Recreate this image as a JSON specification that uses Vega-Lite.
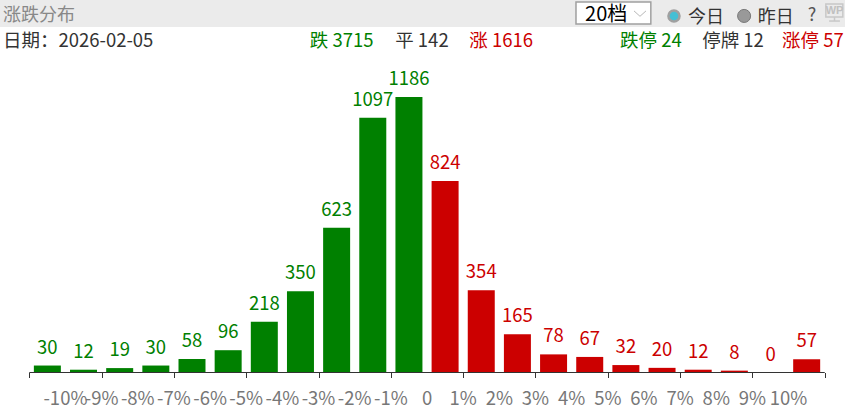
{
  "$schema": "https://vega.github.io/schema/vega-lite/v6.json",
  "description": "涨跌分布",
  "background": "white",
  "width": 845,
  "height": 372.5,
  "padding": {"left": 0, "right": 0, "top": 0, "bottom": 33.5},
  "autosize": {"type": "none"},
  "config": {
    "text": {"font": "Noto Sans CJK SC", "fontSize": 18.5},
    "view": {"stroke": null}
  },
  "datasets": {
    "bars": [
      {"mid": -10.5, "count": 30, "side": "down"},
      {"mid": -9.5, "count": 12, "side": "down"},
      {"mid": -8.5, "count": 19, "side": "down"},
      {"mid": -7.5, "count": 30, "side": "down"},
      {"mid": -6.5, "count": 58, "side": "down"},
      {"mid": -5.5, "count": 96, "side": "down"},
      {"mid": -4.5, "count": 218, "side": "down"},
      {"mid": -3.5, "count": 350, "side": "down"},
      {"mid": -2.5, "count": 623, "side": "down"},
      {"mid": -1.5, "count": 1097, "side": "down"},
      {"mid": -0.5, "count": 1186, "side": "down"},
      {"mid": 0.5, "count": 824, "side": "up"},
      {"mid": 1.5, "count": 354, "side": "up"},
      {"mid": 2.5, "count": 165, "side": "up"},
      {"mid": 3.5, "count": 78, "side": "up"},
      {"mid": 4.5, "count": 67, "side": "up"},
      {"mid": 5.5, "count": 32, "side": "up"},
      {"mid": 6.5, "count": 20, "side": "up"},
      {"mid": 7.5, "count": 12, "side": "up"},
      {"mid": 8.5, "count": 8, "side": "up"},
      {"mid": 9.5, "count": 0, "side": "up"},
      {"mid": 10.5, "count": 57, "side": "up"}
    ],
    "ticks": [
      {"at": -10, "label": "-10%"},
      {"at": -9, "label": "-9%"},
      {"at": -8, "label": "-8%"},
      {"at": -7, "label": "-7%"},
      {"at": -6, "label": "-6%"},
      {"at": -5, "label": "-5%"},
      {"at": -4, "label": "-4%"},
      {"at": -3, "label": "-3%"},
      {"at": -2, "label": "-2%"},
      {"at": -1, "label": "-1%"},
      {"at": 0, "label": "0"},
      {"at": 1, "label": "1%"},
      {"at": 2, "label": "2%"},
      {"at": 3, "label": "3%"},
      {"at": 4, "label": "4%"},
      {"at": 5, "label": "5%"},
      {"at": 6, "label": "6%"},
      {"at": 7, "label": "7%"},
      {"at": 8, "label": "8%"},
      {"at": 9, "label": "9%"},
      {"at": 10, "label": "10%"}
    ]
  },
  "layer": [
    {
      "data": {"name": "bars"},
      "mark": {"type": "bar", "width": 27},
      "encoding": {
        "x": {
          "field": "mid",
          "type": "quantitative",
          "scale": {"domain": [-11.81, 11.56], "nice": false, "zero": false, "padding": 0},
          "axis": {
            "title": null,
            "grid": false,
            "domain": false,
            "labels": false,
            "values": [-11, -10, -9, -8, -7, -6, -5, -4, -3, -2, -1, 0, 1, 2, 3, 4, 5, 6, 7, 8, 9, 10, 11],
            "tickColor": "#333333",
            "tickSize": 5,
            "tickWidth": 1
          }
        },
        "y": {
          "field": "count",
          "type": "quantitative",
          "scale": {"domain": [0, 1603.6], "nice": false},
          "axis": null
        },
        "color": {
          "field": "side",
          "type": "nominal",
          "scale": {"domain": ["down", "up"], "range": ["#008000", "#cc0000"]},
          "legend": null
        }
      }
    },
    {
      "data": {"name": "bars"},
      "mark": {"type": "text", "baseline": "middle", "dy": -18},
      "encoding": {
        "x": {"field": "mid", "type": "quantitative"},
        "y": {"field": "count", "type": "quantitative"},
        "text": {"field": "count", "type": "quantitative"},
        "color": {"field": "side", "type": "nominal", "legend": null}
      }
    },
    {
      "data": {"name": "ticks"},
      "mark": {"type": "text", "baseline": "middle", "color": "#777777", "clip": false},
      "encoding": {
        "x": {"field": "at", "type": "quantitative"},
        "y": {"datum": -113},
        "text": {"field": "label", "type": "nominal"}
      }
    },
    {
      "data": {"values": [{}]},
      "layer": [
        {
          "mark": {"type": "rule", "color": "#333333", "strokeWidth": 1},
          "encoding": {"x": {"datum": -11}, "x2": {"datum": 11}, "y": {"datum": 0}}
        },
        {
          "mark": {"type": "rect", "color": "#ebebeb"},
          "encoding": {"x": {"datum": -11.81}, "x2": {"datum": 11.56}, "y": {"datum": 1603.6}, "y2": {"datum": 1487}}
        },
        {
          "mark": {"type": "rect", "fill": "white", "stroke": "#a0a0a0", "strokeWidth": 1.5},
          "encoding": {"x": {"datum": 4.12}, "x2": {"datum": 6.19}, "y": {"datum": 1595}, "y2": {"datum": 1500}}
        },
        {
          "mark": {"type": "point", "shape": "M-1,-0.45L0,0.45L1,-0.45", "size": 144, "stroke": "#b8b8b8", "strokeWidth": 1, "filled": false, "opacity": 1},
          "encoding": {"x": {"datum": 5.89}, "y": {"datum": 1545}}
        },
        {
          "mark": {"type": "point", "shape": "circle", "size": 122, "filled": true, "fill": "#45bfd4", "stroke": "#a0a0a0", "strokeWidth": 2.5, "opacity": 1},
          "encoding": {"x": {"datum": 6.83}, "y": {"datum": 1535}}
        },
        {
          "mark": {"type": "point", "shape": "circle", "size": 170, "filled": true, "fill": "#999999", "stroke": "#777777", "strokeWidth": 1, "opacity": 1},
          "encoding": {"x": {"datum": 8.77}, "y": {"datum": 1535}}
        },
        {
          "mark": {"type": "rect", "fill": "#ebebeb", "stroke": "#c8c8c8", "strokeWidth": 1.5},
          "encoding": {"x": {"datum": 11.03}, "x2": {"datum": 11.5}, "y": {"datum": 1586}, "y2": {"datum": 1530}}
        },
        {
          "mark": {"type": "rule", "color": "#c8c8c8", "strokeWidth": 1.5},
          "encoding": {"x": {"datum": 11.27}, "y": {"datum": 1530}, "y2": {"datum": 1513}}
        },
        {
          "mark": {"type": "rule", "color": "#c8c8c8", "strokeWidth": 1.5},
          "encoding": {"x": {"datum": 11.12}, "x2": {"datum": 11.42}, "y": {"datum": 1513}}
        },
        {
          "mark": {"type": "text", "text": "WP", "align": "center", "baseline": "middle", "color": "#c0c0c0", "font": "Liberation Sans", "fontWeight": "bold", "fontSize": 11},
          "encoding": {"x": {"datum": 11.27}, "y": {"datum": 1558}}
        },
        {
          "mark": {"type": "text", "text": "涨跌分布", "align": "left", "baseline": "middle", "color": "#888888", "fontSize": 18},
          "encoding": {"x": {"datum": -11.73}, "y": {"datum": 1535}}
        },
        {
          "mark": {"type": "text", "text": "20档", "align": "left", "baseline": "middle", "color": "#000000", "fontSize": 20},
          "encoding": {"x": {"datum": 4.37}, "y": {"datum": 1539}}
        },
        {
          "mark": {"type": "text", "text": "今日", "align": "left", "baseline": "middle", "color": "#333333", "fontSize": 18},
          "encoding": {"x": {"datum": 7.22}, "y": {"datum": 1525}}
        },
        {
          "mark": {"type": "text", "text": "昨日", "align": "left", "baseline": "middle", "color": "#333333", "fontSize": 18},
          "encoding": {"x": {"datum": 9.15}, "y": {"datum": 1525}}
        },
        {
          "mark": {"type": "text", "text": "?", "align": "left", "baseline": "middle", "color": "#555555", "fontSize": 18},
          "encoding": {"x": {"datum": 10.53}, "y": {"datum": 1535}}
        },
        {
          "mark": {"type": "text", "text": "日期\uff1a2026-02-05", "align": "left", "baseline": "middle", "color": "#333333"},
          "encoding": {"x": {"datum": -11.73}, "y": {"datum": 1425}}
        },
        {
          "mark": {"type": "text", "text": "跌 3715", "align": "left", "baseline": "middle", "color": "#008000"},
          "encoding": {"x": {"datum": -3.24}, "y": {"datum": 1425}}
        },
        {
          "mark": {"type": "text", "text": "平 142", "align": "left", "baseline": "middle", "color": "#333333"},
          "encoding": {"x": {"datum": -0.88}, "y": {"datum": 1425}}
        },
        {
          "mark": {"type": "text", "text": "涨 1616", "align": "left", "baseline": "middle", "color": "#cc0000"},
          "encoding": {"x": {"datum": 1.17}, "y": {"datum": 1425}}
        },
        {
          "mark": {"type": "text", "text": "跌停 24", "align": "left", "baseline": "middle", "color": "#008000"},
          "encoding": {"x": {"datum": 5.34}, "y": {"datum": 1425}}
        },
        {
          "mark": {"type": "text", "text": "停牌 12", "align": "left", "baseline": "middle", "color": "#333333"},
          "encoding": {"x": {"datum": 7.61}, "y": {"datum": 1425}}
        },
        {
          "mark": {"type": "text", "text": "涨停 57", "align": "left", "baseline": "middle", "color": "#cc0000"},
          "encoding": {"x": {"datum": 9.82}, "y": {"datum": 1425}}
        }
      ]
    }
  ]
}
